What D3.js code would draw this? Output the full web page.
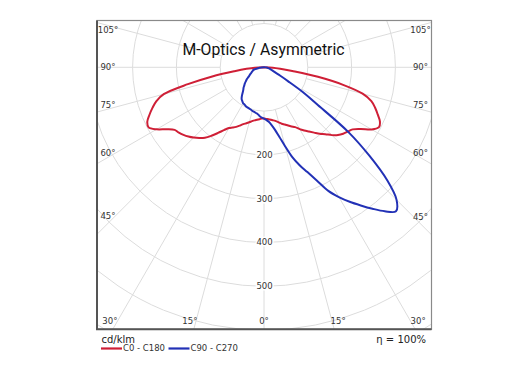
<!DOCTYPE html>
<html>
<head>
<meta charset="utf-8">
<script src="https://cdn.jsdelivr.net/npm/d3@7"></script>
<style>
  html, body { margin: 0; padding: 0; background: #fff; }
  svg { display: block; }
</style>
</head>
<body>
<script>
// luminous intensity, cd/klm
const gamma = [0, 2.5, 5, 7.5, 10, 12.5, 15, 17.5, 20, 22.5, 25, 27.5, 30, 32.5, 35, 37.5, 40, 42.5,
  45, 47.5, 50, 52.5, 55, 57.5, 60, 62.5, 65, 67.5, 70, 72.5, 75, 77.5, 80, 82.5, 85, 87.5, 90];

const c0 = [117, 118, 119, 121, 123, 126, 130, 135, 139, 144, 149, 154, 163, 171, 179, 188, 198, 207,
  219, 229, 236, 241, 247, 262, 284, 296, 292, 281, 270, 257, 233, 185, 125, 65, 37, 20, 0];
const c180 = [117, 117, 119, 121, 123, 126, 130, 134, 138, 144, 150, 155, 160, 170, 183, 197, 210, 219,
  227, 234, 240, 245, 249, 263, 283, 297, 294, 283, 271, 258, 237, 178, 120, 68, 40, 21, 0];
const c90 = [117, 120, 125, 133, 145, 163, 187, 215, 238, 259, 285, 318, 342, 364, 385, 407, 429, 446,
  428, 381, 314, 243, 150, 104, 63, 42, 29, 23, 19, 16, 14, 12, 10, 8, 6, 4, 0];
const c270 = [117, 115, 112, 108, 106, 104, 103, 101, 100, 99, 98, 96, 95, 92, 89, 83, 76, 70,
  66, 61, 57, 52, 48, 43, 39, 36, 33, 31, 29, 27, 26, 22, 16, 12, 10, 6, 0];

const ringValues = [100, 200, 300, 400, 500, 600, 700];
const ringLabels = [200, 300, 400, 500];
const angleTicks = [0, 15, 30, 45, 60, 75, 90, 105];
const planes = ['C0 - C180', 'C90 - C270'];

const width = 530;
const height = 376;
const box = { x0: 97, y0: 20.5, x1: 431.5, y1: 329.3 };
const cx = 264;
const cy = 67.3;
const colors = ['#cf1f36', '#2231b6'];

const svg = d3.select('body').append('svg')
  .attr('width', width)
  .attr('height', height);

const r = d3.scaleLinear()
  .domain([0, 700])
  .range([0, 700 * 0.438]);

svg.append('clipPath')
  .attr('id', 'frame')
  .append('rect')
  .attr('x', box.x0)
  .attr('y', box.y0)
  .attr('width', box.x1 - box.x0)
  .attr('height', box.y1 - box.y0);

const grid = svg.append('g')
  .attr('clip-path', 'url(#frame)')
  .attr('fill', 'none')
  .attr('stroke', '#dcdcdc')
  .attr('stroke-width', 1);

grid.selectAll('circle')
  .data(ringValues)
  .enter()
  .append('circle')
  .attr('cx', cx)
  .attr('cy', cy)
  .attr('r', d => r(d));

// spokes every 15 degrees, starting at the first ring
const spokes = d3.range(0, 360, 15);
grid.selectAll('line')
  .data(spokes)
  .enter()
  .append('line')
  .attr('x1', d => cx + r(100) * Math.sin(d * Math.PI / 180))
  .attr('y1', d => cy + r(100) * Math.cos(d * Math.PI / 180))
  .attr('x2', d => cx + 900 * Math.sin(d * Math.PI / 180))
  .attr('y2', d => cy + 900 * Math.cos(d * Math.PI / 180));

// ring values along the nadir
svg.append('g')
  .selectAll('text')
  .data(ringLabels)
  .enter()
  .append('text')
  .attr('x', cx + 0.5)
  .attr('y', d => cy + r(d))
  .attr('dy', '0.35em')
  .attr('text-anchor', 'middle')
  .attr('font-family', 'DejaVu Sans, Verdana, sans-serif')
  .attr('font-size', 8.5)
  .attr('fill', '#333')
  .attr('stroke', '#fff')
  .attr('stroke-width', 3)
  .attr('paint-order', 'stroke')
  .text(d => d);

// angle labels around the frame
const inset = { x0: 108, x1: 420.5, y0: 30.5, y1: 320.8 };
function labelPos(g, side) {
  const a = (g === 0 ? 0 : g + 1.3 * Math.sign(90 - g)) * Math.PI / 180;
  if (a < 40 * Math.PI / 180) {
    const dy = inset.y1 - cy;
    return [cx + side * dy * Math.tan(a), inset.y1];
  }
  const dx = side > 0 ? inset.x1 - cx : cx - inset.x0;
  const y = cy + dx * Math.cos(a) / Math.sin(a);
  return [side > 0 ? inset.x1 : inset.x0, Math.max(inset.y0, y)];
}

const angleLabels = [];
angleTicks.forEach((g) => {
  angleLabels.push({ g, p: labelPos(g, 1) });
  if (g > 0) angleLabels.push({ g, p: labelPos(g, -1) });
});

svg.append('g')
  .selectAll('text')
  .data(angleLabels)
  .enter()
  .append('text')
  .attr('x', d => d.p[0])
  .attr('y', d => d.p[1])
  .attr('dy', '0.35em')
  .attr('text-anchor', 'middle')
  .attr('font-family', 'DejaVu Sans, Verdana, sans-serif')
  .attr('font-size', 8.5)
  .attr('fill', '#333')
  .text(d => `${d.g}°`);

// frame
svg.append('rect')
  .attr('x', box.x0)
  .attr('y', box.y0)
  .attr('width', box.x1 - box.x0)
  .attr('height', box.y1 - box.y0)
  .attr('fill', 'none')
  .attr('stroke', '#8a8a8a')
  .attr('stroke-width', 1.2);
svg.append('path')
  .attr('d', `M${box.x0},${box.y0} V${box.y1} H${box.x1}`)
  .attr('fill', 'none')
  .attr('stroke', '#555')
  .attr('stroke-width', 2);

// curves: right half plane goes clockwise from nadir, left half the other way
const line = d3.lineRadial()
  .angle(d => d[0])
  .radius(d => r(d[1]))
  .curve(d3.curveCatmullRom.alpha(0.5));

function polarPoints(right, left) {
  const pts = [];
  for (let i = gamma.length - 1; i >= 0; i--) {
    pts.push([Math.PI + gamma[i] * Math.PI / 180, left[i]]);
  }
  for (let i = 1; i < gamma.length; i++) {
    pts.push([Math.PI - gamma[i] * Math.PI / 180, right[i]]);
  }
  return pts;
}

const curves = [polarPoints(c0, c180), polarPoints(c90, c270)];

svg.append('g')
  .attr('transform', `translate(${cx}, ${cy})`)
  .selectAll('path')
  .data(curves)
  .enter()
  .append('path')
  .attr('d', d => line(d))
  .attr('fill', 'none')
  .attr('stroke', (d, i) => colors[i])
  .attr('stroke-width', 2)
  .attr('stroke-linejoin', 'round');

// title
svg.append('text')
  .attr('x', 263.5)
  .attr('y', 55)
  .attr('text-anchor', 'middle')
  .attr('font-family', 'Roboto, sans-serif')
  .attr('font-weight', 400)
  .attr('font-size', 16.5)
  .attr('fill', '#111')
  .attr('textLength', 162)
  .attr('lengthAdjust', 'spacingAndGlyphs')
  .text('M-Optics / Asymmetric');

// legend
svg.append('text')
  .attr('x', 101.5)
  .attr('y', 342.5)
  .attr('font-family', 'DejaVu Sans, Verdana, sans-serif')
  .attr('font-size', 10)
  .attr('fill', '#222')
  .text('cd/klm');

const legend = svg.append('g')
  .selectAll('g')
  .data(planes)
  .enter()
  .append('g')
  .attr('transform', (d, i) => `translate(${101 + i * 67.5}, 348.5)`);

legend.append('line')
  .attr('x1', 0)
  .attr('x2', 21)
  .attr('stroke', (d, i) => colors[i])
  .attr('stroke-width', 2.2);

legend.append('text')
  .attr('x', 22)
  .attr('dy', '0.35em')
  .attr('font-family', 'DejaVu Sans, Verdana, sans-serif')
  .attr('font-size', 8.5)
  .attr('fill', '#333')
  .text(d => d);

svg.append('text')
  .attr('x', 426)
  .attr('y', 342.5)
  .attr('text-anchor', 'end')
  .attr('font-family', 'DejaVu Sans, Verdana, sans-serif')
  .attr('font-size', 10)
  .attr('fill', '#222')
  .text('η = 100%');
</script>
</body>
</html>
